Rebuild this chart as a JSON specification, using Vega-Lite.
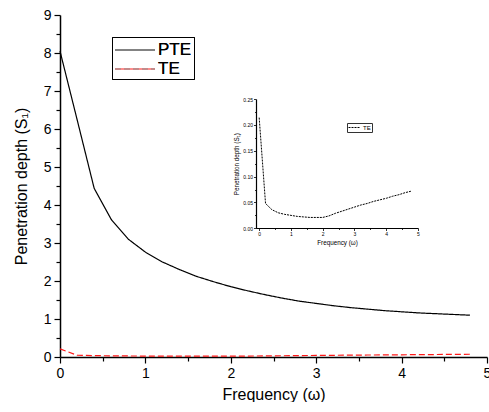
{
  "$schema": "https://vega.github.io/schema/vega-lite/v6.json",
  "width": 427,
  "height": 342,
  "padding": {"left": 13, "top": 8, "right": 0, "bottom": 0},
  "background": "white",
  "config": {
    "view": {"stroke": null},
    "font": "Liberation Sans",
    "axis": {"grid": false, "domainColor": "black", "tickColor": "black", "labelColor": "black", "titleColor": "black", "titleFontWeight": "normal", "labelFont": "Liberation Sans", "titleFont": "Liberation Sans"}
  },
  "layer": [
    {
      "data": {"values": [
        {"f": 0, "d": 8.05, "series": "PTE"},
        {"f": 0.2, "d": 6.25, "series": "PTE"},
        {"f": 0.4, "d": 4.44, "series": "PTE"},
        {"f": 0.6, "d": 3.62, "series": "PTE"},
        {"f": 0.8, "d": 3.10, "series": "PTE"},
        {"f": 1.0, "d": 2.76, "series": "PTE"},
        {"f": 1.2, "d": 2.50, "series": "PTE"},
        {"f": 1.4, "d": 2.30, "series": "PTE"},
        {"f": 1.6, "d": 2.12, "series": "PTE"},
        {"f": 1.8, "d": 1.98, "series": "PTE"},
        {"f": 2.0, "d": 1.85, "series": "PTE"},
        {"f": 2.2, "d": 1.74, "series": "PTE"},
        {"f": 2.4, "d": 1.64, "series": "PTE"},
        {"f": 2.6, "d": 1.55, "series": "PTE"},
        {"f": 2.8, "d": 1.47, "series": "PTE"},
        {"f": 3.0, "d": 1.41, "series": "PTE"},
        {"f": 3.2, "d": 1.35, "series": "PTE"},
        {"f": 3.4, "d": 1.30, "series": "PTE"},
        {"f": 3.6, "d": 1.26, "series": "PTE"},
        {"f": 3.8, "d": 1.22, "series": "PTE"},
        {"f": 4.0, "d": 1.19, "series": "PTE"},
        {"f": 4.2, "d": 1.16, "series": "PTE"},
        {"f": 4.4, "d": 1.14, "series": "PTE"},
        {"f": 4.6, "d": 1.12, "series": "PTE"},
        {"f": 4.8, "d": 1.10, "series": "PTE"},
        {"f": 0, "d": 0.214, "series": "TE"},
        {"f": 0.2, "d": 0.048, "series": "TE"},
        {"f": 0.4, "d": 0.036, "series": "TE"},
        {"f": 0.6, "d": 0.030, "series": "TE"},
        {"f": 0.8, "d": 0.027, "series": "TE"},
        {"f": 1.0, "d": 0.025, "series": "TE"},
        {"f": 1.2, "d": 0.023, "series": "TE"},
        {"f": 1.4, "d": 0.022, "series": "TE"},
        {"f": 1.6, "d": 0.021, "series": "TE"},
        {"f": 1.8, "d": 0.021, "series": "TE"},
        {"f": 2.0, "d": 0.021, "series": "TE"},
        {"f": 2.2, "d": 0.024, "series": "TE"},
        {"f": 2.4, "d": 0.029, "series": "TE"},
        {"f": 2.6, "d": 0.033, "series": "TE"},
        {"f": 2.8, "d": 0.037, "series": "TE"},
        {"f": 3.0, "d": 0.041, "series": "TE"},
        {"f": 3.2, "d": 0.045, "series": "TE"},
        {"f": 3.4, "d": 0.048, "series": "TE"},
        {"f": 3.6, "d": 0.052, "series": "TE"},
        {"f": 3.8, "d": 0.055, "series": "TE"},
        {"f": 4.0, "d": 0.058, "series": "TE"},
        {"f": 4.2, "d": 0.062, "series": "TE"},
        {"f": 4.4, "d": 0.065, "series": "TE"},
        {"f": 4.6, "d": 0.069, "series": "TE"},
        {"f": 4.8, "d": 0.072, "series": "TE"}
      ]},
      "mark": {"type": "line", "strokeWidth": 1.2},
      "encoding": {
        "x": {"field": "f", "type": "quantitative",
          "scale": {"domain": [0, 5], "nice": false, "zero": false},
          "axis": {"title": "Frequency (ω)", "titleFontSize": 16, "titlePadding": 6, "labelFontSize": 14, "labelPadding": 3,
            "values": [0, 0.5, 1, 1.5, 2, 2.5, 3, 3.5, 4, 4.5, 5],
            "labelExpr": "datum.value % 1 === 0 ? format(datum.value, 'd') : ''",
            "labelFlush": false, "labelOverlap": false, "domainWidth": 1.5, "tickWidth": 1.2,
            "tickSize": {"condition": {"test": "datum.value % 1 === 0", "value": 6}, "value": 4}}},
        "y": {"field": "d", "type": "quantitative",
          "scale": {"domain": [0, 9], "nice": false},
          "axis": {"title": "Penetration depth (S₁)", "titleFontSize": 16, "titlePadding": 14, "labelFontSize": 14, "labelPadding": 3,
            "values": [0, 0.5, 1, 1.5, 2, 2.5, 3, 3.5, 4, 4.5, 5, 5.5, 6, 6.5, 7, 7.5, 8, 8.5, 9],
            "labelExpr": "datum.value % 1 === 0 ? format(datum.value, 'd') : ''",
            "labelFlush": false, "labelOverlap": false, "domainWidth": 1.5, "tickWidth": 1.2,
            "tickSize": {"condition": {"test": "datum.value % 1 === 0", "value": 6}, "value": 4}}},
        "color": {"field": "series", "type": "nominal",
          "scale": {"domain": ["PTE", "TE"], "range": ["black", "#ff1a1a"]},
          "legend": {"orient": "none", "legendX": 52, "legendY": 22, "title": null, "strokeColor": "black", "padding": 2,
            "labelFontSize": 17, "labelFont": "Liberation Sans", "labelColor": "black",
            "symbolType": "M-1,0H3", "symbolSize": 400, "symbolStrokeWidth": 1.2, "labelOffset": 22, "rowPadding": 0}},
        "strokeDash": {"field": "series", "type": "nominal",
          "scale": {"domain": ["PTE", "TE"], "range": [[1, 0], [6, 3]]},
          "legend": {"orient": "none", "legendX": 52, "legendY": 22, "title": null, "strokeColor": "black", "padding": 2,
            "labelFontSize": 17, "labelFont": "Liberation Sans", "labelColor": "black",
            "symbolType": "M-1,0H3", "symbolSize": 400, "symbolStrokeWidth": 1.2, "labelOffset": 22, "rowPadding": 0}}
      }
    },
    {
      "data": {"values": [
        {"f": 0, "d": 0.214, "s": "TE"},
        {"f": 0.2, "d": 0.048, "s": "TE"},
        {"f": 0.4, "d": 0.036, "s": "TE"},
        {"f": 0.6, "d": 0.030, "s": "TE"},
        {"f": 0.8, "d": 0.027, "s": "TE"},
        {"f": 1.0, "d": 0.025, "s": "TE"},
        {"f": 1.2, "d": 0.023, "s": "TE"},
        {"f": 1.4, "d": 0.022, "s": "TE"},
        {"f": 1.6, "d": 0.021, "s": "TE"},
        {"f": 1.8, "d": 0.021, "s": "TE"},
        {"f": 2.0, "d": 0.021, "s": "TE"},
        {"f": 2.2, "d": 0.024, "s": "TE"},
        {"f": 2.4, "d": 0.029, "s": "TE"},
        {"f": 2.6, "d": 0.033, "s": "TE"},
        {"f": 2.8, "d": 0.037, "s": "TE"},
        {"f": 3.0, "d": 0.041, "s": "TE"},
        {"f": 3.2, "d": 0.045, "s": "TE"},
        {"f": 3.4, "d": 0.048, "s": "TE"},
        {"f": 3.6, "d": 0.052, "s": "TE"},
        {"f": 3.8, "d": 0.055, "s": "TE"},
        {"f": 4.0, "d": 0.058, "s": "TE"},
        {"f": 4.2, "d": 0.062, "s": "TE"},
        {"f": 4.4, "d": 0.065, "s": "TE"},
        {"f": 4.6, "d": 0.069, "s": "TE"},
        {"f": 4.8, "d": 0.072, "s": "TE"}
      ]},
      "mark": {"type": "line", "strokeWidth": 1, "color": "black"},
      "encoding": {
        "x": {"field": "f", "type": "quantitative",
          "scale": {"domain": [-0.1, 5], "nice": false, "zero": false, "range": [196, 358]},
          "axis": {"orient": "bottom", "offset": -129, "title": "Frequency (ω)", "titleFontSize": 6.3, "titlePadding": 3, "labelFontSize": 5, "labelPadding": 1,
            "values": [0, 0.5, 1, 1.5, 2, 2.5, 3, 3.5, 4, 4.5, 5],
            "labelExpr": "datum.value % 1 === 0 ? format(datum.value, 'd') : ''",
            "labelFlush": false, "labelOverlap": false, "domainWidth": 1.2, "tickWidth": 0.8,
            "tickSize": {"condition": {"test": "datum.value % 1 === 0", "value": 2.5}, "value": 1.5}}},
        "y": {"field": "d", "type": "quantitative",
          "scale": {"domain": [0, 0.25], "nice": false, "range": [213.3, 84]},
          "axis": {"orient": "left", "offset": -196, "title": "Penetration depth (S₁)", "titleFontSize": 6.3, "titlePadding": 3, "labelFontSize": 5, "labelPadding": 1,
            "values": [0, 0.025, 0.05, 0.075, 0.1, 0.125, 0.15, 0.175, 0.2, 0.225, 0.25],
            "labelExpr": "round(datum.value * 1000) % 50 === 0 ? format(datum.value, '.2f') : ''",
            "labelFlush": false, "labelOverlap": false, "domainWidth": 1.2, "tickWidth": 0.8,
            "tickSize": {"condition": {"test": "round(datum.value * 1000) % 50 === 0", "value": 2.5}, "value": 1.5}}},
        "strokeDash": {"field": "s", "type": "nominal",
          "scale": {"domain": ["TE"], "range": [[2, 1]]},
          "legend": {"orient": "none", "legendX": 287, "legendY": 108, "title": null, "strokeColor": "#333", "padding": 1,
            "labelFontSize": 6, "labelColor": "black", "symbolStrokeColor": "black",
            "symbolType": "M-1,0H3", "symbolSize": 36, "symbolStrokeWidth": 1, "labelOffset": 8}}
      }
    }
  ],
  "resolve": {
    "scale": {"x": "independent", "y": "independent", "strokeDash": "independent"},
    "axis": {"x": "independent", "y": "independent"},
    "legend": {"strokeDash": "independent"}
  }
}
